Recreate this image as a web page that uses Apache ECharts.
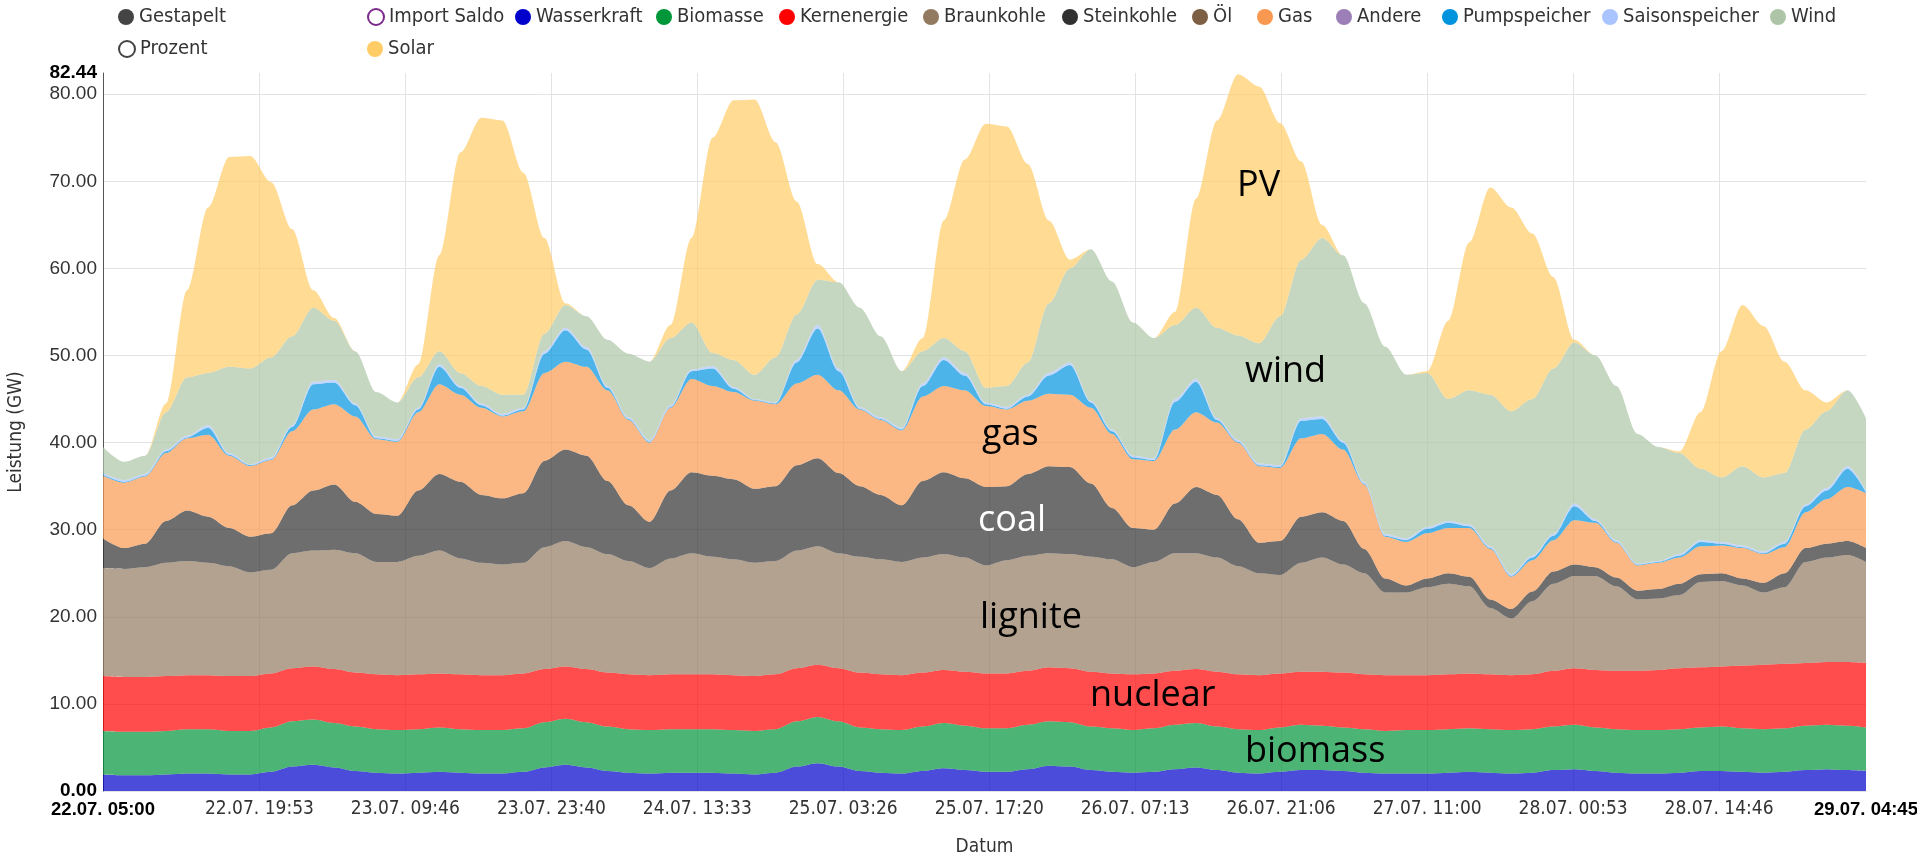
<!DOCTYPE html>
<html>
<head>
<meta charset="utf-8">
<script src="https://cdn.jsdelivr.net/npm/echarts@6/dist/echarts.min.js"></script>
<style>html,body{margin:0;padding:0;background:#fff;overflow:hidden;}#chart{width:1917px;height:853px;}</style>
</head>
<body>
<div id="chart"></div>
<script>
// ---- categories: hours since 22.07. 05:00 (2-hour steps, last point 29.07. 04:45) ----
const hours = [];
for (let i = 0; i < 84; i++) hours.push(i * 2);
hours.push(167.75);

// ---- tick labels ----
const tickLabels = ['22.07. 05:00','22.07. 19:53','23.07. 09:46','23.07. 23:40','24.07. 13:33','25.07. 03:26',
  '25.07. 17:20','26.07. 07:13','26.07. 21:06','27.07. 11:00','28.07. 00:53','28.07. 14:46','29.07. 04:45'];
const yTickValues = [0,10,20,30,40,50,60,70,80];
const yMax = 82.44;

// ---- series values (GW) ----
const wasserkraft = [1.9,1.8,1.8,1.9,2.0,2.0,1.9,1.9,2.2,2.8, 3.0,2.7,2.3,2.1,2.0,2.1,2.2,2.1,2.0,2.0,
  2.2,2.7,3.0,2.7,2.3,2.1,2.0,2.1,2.1,2.1, 2.0,1.9,2.1,2.8,3.2,2.8,2.3,2.1,2.0,2.3,
  2.6,2.4,2.2,2.2,2.5,2.9,2.8,2.4,2.2,2.1, 2.2,2.5,2.7,2.4,2.1,2.0,2.2,2.4,2.4,2.3,
  2.1,2.0,2.0,2.0,2.1,2.2,2.1,2.0,2.1,2.4, 2.5,2.3,2.1,2.0,2.0,2.1,2.3,2.3,2.2,2.1,
  2.2,2.4,2.5,2.4,2.3];
const biomasse = [5.0,5.0,5.0,5.0,5.1,5.1,5.0,5.0,5.1,5.2, 5.2,5.1,5.1,5.0,5.0,5.0,5.1,5.0,5.0,5.0,
  5.0,5.2,5.3,5.2,5.1,5.0,5.0,5.0,5.0,5.0, 5.0,5.0,5.0,5.2,5.3,5.2,5.0,5.0,5.0,5.1,
  5.2,5.1,5.0,5.0,5.1,5.1,5.1,5.0,5.0,4.9, 5.0,5.1,5.1,5.0,5.0,5.0,5.1,5.2,5.1,5.0,
  5.0,4.9,5.0,5.0,5.0,5.0,5.0,5.0,5.0,5.0, 5.1,5.0,5.0,5.0,5.0,5.0,5.0,5.1,5.0,5.0,
  5.0,5.1,5.1,5.1,5.0];
const kernenergie = [6.3,6.3,6.3,6.3,6.2,6.2,6.3,6.3,6.2,6.1, 6.1,6.2,6.2,6.3,6.3,6.3,6.2,6.3,6.3,6.3,
  6.3,6.1,6.0,6.1,6.2,6.3,6.3,6.3,6.3,6.3, 6.3,6.3,6.3,6.1,6.0,6.1,6.3,6.3,6.3,6.2,
  6.1,6.2,6.3,6.3,6.2,6.2,6.2,6.3,6.3,6.4, 6.3,6.2,6.2,6.3,6.3,6.3,6.2,6.1,6.2,6.3,
  6.3,6.4,6.3,6.3,6.3,6.3,6.3,6.3,6.3,6.4, 6.5,6.6,6.7,6.8,6.9,7.0,6.9,6.9,7.2,7.4,
  7.4,7.2,7.2,7.3,7.4];
const braunkohle = [12.4,12.4,12.6,13.0,13.1,12.9,12.6,11.9,11.9,13.2, 13.3,13.7,13.7,12.9,13.0,13.6,14.1,13.3,12.9,12.7,
  12.7,14.0,14.4,14.0,13.6,13.0,12.3,13.3,13.9,13.5, 13.3,13.0,13.0,13.5,13.6,13.2,13.3,13.2,13.0,13.2,
  13.3,13.1,12.4,13.0,13.2,13.1,13.1,13.2,13.1,12.3, 12.8,13.5,13.3,13.1,12.4,11.7,11.3,12.5,13.1,12.4,
  11.6,9.5,9.5,10.1,10.4,10.0,7.6,6.5,8.4,10.0, 10.6,10.8,9.7,8.2,8.2,8.4,9.8,9.8,9.2,8.3,
  8.8,11.6,12.0,12.3,11.6];
const steinkohle = [3.4,2.4,2.7,4.8,5.8,5.3,4.4,4.1,4.2,5.5, 6.9,7.5,5.9,5.5,5.3,7.5,8.8,8.8,7.8,7.6,
  8.0,9.9,10.5,10.5,8.4,6.4,5.3,7.8,9.3,9.3, 9.2,8.5,8.6,9.8,10.1,9.2,8.1,7.4,6.5,8.8,
  9.4,9.1,9.0,8.5,9.4,10.0,10.0,8.4,5.9,4.5, 3.7,5.7,7.6,7.2,5.4,3.5,3.9,5.3,5.2,5.0,
  2.8,1.6,0.8,1.0,1.2,1.1,1.0,1.1,1.1,1.4, 1.3,1.0,1.0,1.0,1.1,1.3,0.9,0.9,0.8,1.1,
  1.6,1.6,1.6,1.6,1.6];
const gas = [7.2,7.5,7.7,7.8,8.3,9.4,8.3,8.1,8.4,8.5, 9.3,9.2,9.8,8.6,8.5,9.0,10.3,10.0,10.0,9.4,
  9.4,10.1,10.1,10.2,10.4,9.8,9.1,9.5,10.7,10.3, 10.0,10.1,9.4,9.4,9.6,9.5,8.8,8.6,8.6,9.7,
  9.9,10.1,9.3,8.8,8.4,8.3,8.3,8.7,8.5,7.9, 7.9,8.5,8.6,8.3,8.8,8.8,8.4,9.0,9.0,8.2,
  7.4,4.8,5.0,5.2,5.2,5.6,5.8,3.7,3.6,3.6, 5.1,5.1,4.0,2.9,3.0,3.0,3.2,3.2,3.5,3.3,
  3.0,4.1,5.1,6.2,6.3];
const pumpspeicher = [0.1,0.1,0.1,0.2,0.1,0.8,0.1,0.1,0.1,0.5, 2.9,2.5,1.3,0.1,0.1,0.3,2.0,0.8,0.3,0.1,
  0.2,2.2,3.6,2.0,0.3,0.1,0.1,0.1,0.9,2.0, 0.4,0.1,0.1,2.4,5.3,2.2,0.1,0.1,0.1,1.2,
  3.0,1.7,0.2,0.1,0.5,2.1,3.4,0.6,0.3,0.2, 0.1,3.2,3.5,0.3,0.1,0.1,0.1,2.0,1.7,0.8,
  0.1,0.1,0.2,0.5,0.6,0.2,0.1,0.1,0.3,0.5, 1.6,0.2,0.1,0.1,0.1,0.2,0.5,0.2,0.1,0.1,
  0.4,0.7,1.0,2.1,0.1];
const saisonspeicher = [0.2,0.2,0.2,0.2,0.2,0.3,0.2,0.1,0.2,0.2, 0.3,0.3,0.2,0.2,0.2,0.2,0.3,0.2,0.2,0.2,
  0.2,0.3,0.3,0.3,0.2,0.2,0.2,0.2,0.2,0.3, 0.2,0.1,0.1,0.3,0.4,0.3,0.2,0.2,0.2,0.3,
  0.3,0.3,0.2,0.2,0.2,0.3,0.3,0.2,0.2,0.2, 0.2,0.3,0.3,0.2,0.2,0.2,0.2,0.3,0.3,0.2,
  0.2,0.2,0.2,0.2,0.2,0.2,0.2,0.2,0.2,0.2, 0.3,0.2,0.2,0.1,0.1,0.2,0.2,0.2,0.2,0.2,
  0.2,0.2,0.3,0.3,0.2];
const wind = [3.0,2.1,2.1,4.3,6.7,6.0,9.9,11.0,11.5,10.2, 8.5,6.8,6.0,5.1,4.2,3.5,1.5,1.5,2.0,2.2,
  1.5,2.0,2.6,3.5,5.3,7.3,9.0,7.7,5.4,1.5, 3.1,2.8,5.2,5.2,5.2,9.9,11.4,9.3,6.5,3.7,
  2.2,2.5,1.7,2.4,3.7,8.0,10.8,17.4,17.0,15.3, 13.8,8.5,8.2,10.4,12.0,13.8,17.1,18.2,20.5,21.3,
  20.5,21.5,18.8,17.7,14.0,15.4,17.4,18.7,18.0,19.0, 18.5,18.8,17.7,14.9,13.1,11.6,8.2,7.4,9.1,8.5,
  7.9,8.6,8.8,8.7,8.3];
const solar = [0,0,0,1.0,10.0,19.0,24.1,24.4,20.1,12.3, 2.0,0.3,0,0,0,1.5,11.0,25.3,30.8,31.5,
  25.5,11.0,0.2,0,0,0,0,1.5,9.7,24.7, 29.8,31.6,24.7,13.0,1.8,0,0,0,0,1.5,
  13.5,22.0,30.3,29.8,22.8,9.5,1.0,0,0,0, 0,1.5,12.5,23.8,30.0,29.5,22.2,11.3,1.5,0,
  0,0,0,0.2,9.0,17.0,23.8,23.4,19.0,10.5, 0.3,0,0,0,0,0.2,6.5,14.5,18.5,17.4,
  12.8,4.5,1.0,0,0];

// ---- time helpers ----
const T0 = Date.UTC(2019, 6, 22, 5, 0);
const HOUR = 3600 * 1000;
function labelToHour(s) {
  const m = s.match(/(\d+)\.07\. (\d+):(\d+)/);
  return (+m[1] - 22) * 24 + (+m[2]) + (+m[3]) / 60 - 5;
}
const tickHours = tickLabels.map(labelToHour);
const gridHours = tickHours.slice(1, -1);

const NARROW = "'Liberation Sans Narrow','Arial Narrow','DejaVu Sans Condensed',sans-serif";
const ARIAL = "'Liberation Sans',Arial,sans-serif";

function area(name, values, color) {
  return {
    name, type: 'line', stack: 'total', smooth: 0.3, smoothMonotone: 'x',
    xAxisIndex: 0, showSymbol: false, symbol: 'none',
    data: hours.map((h, i) => [T0 + h * HOUR, values[i]]),
    lineStyle: { width: 0, opacity: 0 },
    itemStyle: { color },
    areaStyle: { color, opacity: 0.7 },
    emphasis: { disabled: true },
    z: 2
  };
}
function dummy(name, color) {
  return { name, type: 'line', xAxisIndex: 0, data: [], itemStyle: { color }, lineStyle: { color } };
}

const legendItems = [
  { name: 'Gestapelt', x: 126, row: 0 },
  { name: 'Import Saldo', x: 375, row: 0, icon: 'emptyCircle' },
  { name: 'Wasserkraft', x: 523, row: 0 },
  { name: 'Biomasse', x: 664, row: 0 },
  { name: 'Kernenergie', x: 787, row: 0 },
  { name: 'Braunkohle', x: 931, row: 0 },
  { name: 'Steinkohle', x: 1070, row: 0 },
  { name: 'Öl', x: 1200, row: 0 },
  { name: 'Gas', x: 1265, row: 0 },
  { name: 'Andere', x: 1344, row: 0 },
  { name: 'Pumpspeicher', x: 1450, row: 0 },
  { name: 'Saisonspeicher', x: 1610, row: 0 },
  { name: 'Wind', x: 1778, row: 0 },
  { name: 'Prozent', x: 126, row: 1, icon: 'emptyCircle' },
  { name: 'Solar', x: 375, row: 1 }
];
const rowCenters = [17, 49];

const legends = legendItems.map(it => ({
  data: [{ name: it.name, icon: it.icon || 'circle' }],
  left: it.x - 8, top: rowCenters[it.row] - 10,
  padding: 0, itemWidth: 16, itemHeight: 16,
  selectedMode: false,
  textStyle: { fontFamily: NARROW, fontSize: 20, color: '#333', lineHeight: 20 }
}));

const annotations = [
  { text: 'PV', x: 1237, y: 186, color: '#000' },
  { text: 'wind', x: 1245, y: 372, color: '#000' },
  { text: 'gas', x: 982, y: 435, color: '#000' },
  { text: 'coal', x: 978, y: 521, color: '#fff' },
  { text: 'lignite', x: 980, y: 618, color: '#000' },
  { text: 'nuclear', x: 1090, y: 696, color: '#000' },
  { text: 'biomass', x: 1245, y: 752, color: '#000' }
];

const chart = echarts.init(document.getElementById('chart'), null, { renderer: 'canvas' });
chart.setOption({
  animation: false,
  backgroundColor: '#fff',
  textStyle: { fontFamily: ARIAL },
  legend: legends,
  grid: { left: 103, right: 51, top: 73, bottom: 62, containLabel: false, outerBoundsMode: 'none' },
  xAxis: [
    { // data axis (time) – hidden, carries the series
      type: 'time', min: T0, max: T0 + 167.75 * HOUR, show: false,
      splitLine: { show: false }
    },
    { // display axis (hours since start) – labels and vertical grid lines
      type: 'value', min: 0, max: 167.75, position: 'bottom',
      name: 'Datum', nameLocation: 'middle', nameGap: 47,
      nameTextStyle: { fontFamily: NARROW, fontSize: 19, color: '#333' },
      axisLine: { show: false },
      axisTick: { show: false, customValues: gridHours },
      splitLine: { show: true, lineStyle: { color: '#e3e3e3', width: 1 } },
      axisLabel: {
        customValues: tickHours, margin: 9,
        fontFamily: NARROW, fontSize: 19, color: '#333',
        formatter: v => {
          let best = 0;
          tickHours.forEach((t, i) => { if (Math.abs(t - v) < Math.abs(tickHours[best] - v)) best = i; });
          const s = tickLabels[best];
          return (best === 0 || best === tickLabels.length - 1) ? '{b|' + s + '}' : s;
        },
        rich: { b: { fontFamily: ARIAL, fontSize: 18.5, fontWeight: 'bold', color: '#000' } }
      }
    }
  ],
  yAxis: {
    type: 'value', min: 0, max: yMax, interval: 10,
    name: 'Leistung (GW)', nameLocation: 'middle', nameGap: 77, nameRotate: 90,
    nameTextStyle: { fontFamily: NARROW, fontSize: 19, color: '#333' },
    axisLine: { show: true, lineStyle: { color: '#555', width: 1 } },
    axisTick: { show: false, customValues: yTickValues },
    splitLine: { show: true, lineStyle: { color: '#e3e3e3', width: 1 } },
    axisLabel: {
      customValues: yTickValues.concat([yMax]), margin: 6,
      fontFamily: ARIAL, fontSize: 19, color: '#333',
      formatter: v => (v === 0 || v === yMax) ? '{b|' + v.toFixed(2) + '}' : v.toFixed(2),
      rich: { b: { fontFamily: ARIAL, fontSize: 19, fontWeight: 'bold', color: '#000' } }
    }
  },
  series: [
    dummy('Gestapelt', '#444444'),
    dummy('Import Saldo', '#7b2a8c'),
    area('Wasserkraft', wasserkraft, '#0000cc'),
    area('Biomasse', biomasse, '#00963a'),
    area('Kernenergie', kernenergie, '#ff0000'),
    area('Braunkohle', braunkohle, '#917a5f'),
    area('Steinkohle', steinkohle, '#313131'),
    dummy('Öl', '#7d5f45'),
    area('Gas', gas, '#f99850'),
    dummy('Andere', '#9b7fb6'),
    area('Pumpspeicher', pumpspeicher, '#0094de'),
    area('Saisonspeicher', saisonspeicher, '#aac4ff'),
    area('Wind', wind, '#adc5a6'),
    dummy('Prozent', '#444444'),
    area('Solar', solar, '#ffcc66')
  ],
  graphic: annotations.map(a => ({
    type: 'text', x: a.x, y: a.y, z: 100, silent: true,
    style: { text: a.text, fill: a.color, font: "36px 'Open Sans', sans-serif", align: 'left', verticalAlign: 'middle' }
  }))
});
</script>
</body>
</html>
